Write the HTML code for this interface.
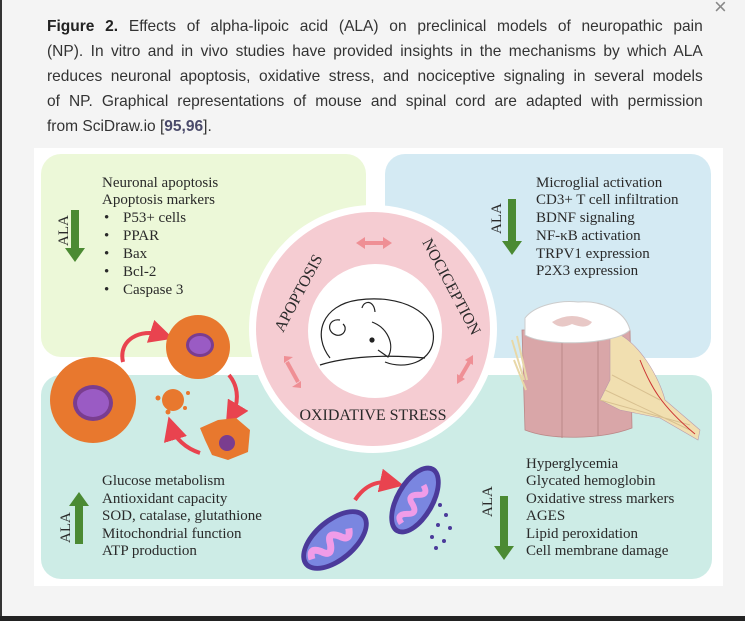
<!DOCTYPE html>
<html><head><meta charset="utf-8"><style>
html,body{margin:0;padding:0;}
body{width:745px;height:621px;background:#f4f4f4;position:relative;overflow:hidden;font-family:"Liberation Sans",sans-serif;}
.lb{position:absolute;left:0;top:0;width:2px;height:621px;background:#333;}
.bb{position:absolute;left:0;top:616px;width:745px;height:5px;background:#222;}
.x{position:absolute;left:714px;top:-6px;font-size:22px;color:#888;}
.cap{position:absolute;left:47px;top:14px;width:676px;font-size:16px;line-height:25px;color:#333;transform:scaleX(0.97);transform-origin:0 0;}
.cap div{text-align:justify;text-align-last:justify;white-space:nowrap;}
.cap div.l{text-align-last:left;}
.cap b{color:#222}
svg{position:absolute;left:0;top:0;}
.t{font-family:"Liberation Serif",serif;font-size:15px;fill:#2a2a2a;}
</style></head><body>
<div class="lb"></div><div class="bb"></div><div class="x">×</div>
<div class="cap">
<div><b>Figure 2.</b> Effects of alpha-lipoic acid (ALA) on preclinical models of neuropathic pain</div>
<div>(NP). In vitro and in vivo studies have provided insights in the mechanisms by which ALA</div>
<div>reduces neuronal apoptosis, oxidative stress, and nociceptive signaling in several models</div>
<div>of NP. Graphical representations of mouse and spinal cord are adapted with permission</div>
<div class="l">from SciDraw.io [<b style="color:#4a4a6a">95,96</b>].</div>
</div>
<svg width="745" height="621" viewBox="0 0 745 621">
<defs><marker id="ah" markerWidth="6" markerHeight="6" refX="3" refY="3" orient="auto"><path d="M0,0 L6,3 L0,6z" fill="#e9434f"/></marker></defs>
<rect x="34" y="148" width="689" height="438" fill="#fff"/>
<rect x="41" y="154" width="325" height="203" rx="20" fill="#ecf8d8"/>
<rect x="385" y="154" width="326" height="204" rx="20" fill="#d4eaf3"/>
<rect x="41" y="375" width="671" height="204" rx="20" fill="#cdece6"/>
<circle cx="373" cy="329" r="124" fill="#fff"/>
<circle cx="373" cy="329" r="117" fill="#f5ccd2"/>
<circle cx="375" cy="331" r="67" fill="#fff"/>
<g stroke="#ef8f95" stroke-width="4" fill="#ef8f95">
<line x1="362" y1="243" x2="386" y2="243"/>
<path d="M356,243 l9,-6 v12z M392,243 l-9,-6 v12z" stroke="none"/>
<line x1="287" y1="362" x2="298" y2="382"/>
<path d="M284,356 l9,1 -9,6z M301,388 l-9,-1 9,-6z" stroke="none"/>
<line x1="460" y1="378" x2="470" y2="361"/>
<path d="M457,384 l0,-10 8,5z M473,355 l0,10 -8,-5z" stroke="none"/>
</g>
<text class="t" x="373" y="420" text-anchor="middle" style="font-size:16px">OXIDATIVE STRESS</text>
<text class="t" style="font-size:16px" transform="translate(283,333) rotate(-62)">APOPTOSIS</text>
<text class="t" style="font-size:16px" transform="translate(422,242) rotate(62)">NOCICEPTION</text>
<g fill="none" stroke="#222" stroke-width="1.2">
<path d="M330,358 C312,335 322,305 358,300 C400,294 438,312 433,342 C430,362 405,370 385,362"/>
<path d="M320,365 C345,357 385,354 425,358"/>
<path d="M340,320 C328,318 326,332 336,335 C344,337 348,328 343,324"/>
<path d="M362,308 C364,300 374,300 375,312"/>
<path d="M372,322 C388,328 395,345 388,357 L378,350"/>
<circle cx="372" cy="340" r="2" fill="#222"/>
</g>
<text class="t" x="102" y="187">Neuronal apoptosis</text>
<text class="t" x="102" y="204">Apoptosis markers</text>
<text class="t" x="104" y="222">•</text><text class="t" x="123" y="222">P53+ cells</text>
<text class="t" x="104" y="240">•</text><text class="t" x="123" y="240">PPAR</text>
<text class="t" x="104" y="258">•</text><text class="t" x="123" y="258">Bax</text>
<text class="t" x="104" y="276">•</text><text class="t" x="123" y="276">Bcl-2</text>
<text class="t" x="104" y="294">•</text><text class="t" x="123" y="294">Caspase 3</text>
<text class="t" transform="translate(68,246) rotate(-90)">ALA</text>
<path d="M71,210 h8 v38 h6 l-10,14 -10,-14 h6z" fill="#4b8a33"/>
<text class="t" x="536" y="187">Microglial activation</text>
<text class="t" x="536" y="204">CD3+ T cell infiltration</text>
<text class="t" x="536" y="222">BDNF signaling</text>
<text class="t" x="536" y="240">NF-κB activation</text>
<text class="t" x="536" y="258">TRPV1 expression</text>
<text class="t" x="536" y="275">P2X3 expression</text>
<text class="t" transform="translate(501,234) rotate(-90)">ALA</text>
<path d="M508,199 h8 v42 h6 l-10,14 -10,-14 h6z" fill="#4b8a33"/>
<g>
<path d="M522,330 L525,430 C550,440 600,440 632,428 L630,330z" fill="#d9a6a8" stroke="#b88" stroke-width="0.8"/>
<line x1="562" y1="340" x2="562" y2="438" stroke="#b88"/>
<line x1="598" y1="340" x2="598" y2="436" stroke="#b88"/>
<path d="M610,330 C640,340 660,380 665,400 L700,430 L698,440 L660,418 L620,410 L600,400 L610,380z" fill="#f1dfb0" stroke="#b9a" stroke-width="0.6"/>
<path d="M600,400 L690,425 M605,390 L690,430 M612,375 L660,400" stroke="#d8c090" stroke-width="1"/>
<path d="M640,360 C650,385 660,405 695,434" stroke="#c33" stroke-width="1" fill="none"/>
<path d="M525,318 C535,305 560,300 578,302 C600,300 625,310 630,330 C615,345 545,347 525,335z" fill="#fff" stroke="#ccc"/>
<path d="M552,322 q20,-12 40,0 q-5,8 -20,2 q-12,6 -20,-2z" fill="#e8c8c6"/>
<path d="M512,340 l12,40 M517,336 l10,44 M514,360 l12,30" stroke="#e8d8a8" stroke-width="2"/>
</g>
<path d="M123,362 C118,340 140,328 162,335" fill="none" stroke="#e9434f" stroke-width="4" marker-end="url(#ah)"/>
<circle cx="93" cy="400" r="43" fill="#e8782e"/>
<ellipse cx="93" cy="403" rx="20" ry="18" fill="#7a3d8f"/><ellipse cx="93" cy="403" rx="16" ry="14" fill="#9a5bc4"/>
<circle cx="198" cy="347" r="32" fill="#e8782e"/>
<ellipse cx="200" cy="345" rx="14" ry="12" fill="#7a3d8f"/><ellipse cx="200" cy="345" rx="11" ry="9" fill="#9a5bc4"/>
<path d="M229,375 C240,388 238,405 232,415" fill="none" stroke="#e9434f" stroke-width="4" marker-end="url(#ah)"/>
<circle cx="173" cy="400" r="11" fill="#e8782e"/>
<circle cx="158" cy="398" r="2.5" fill="#e8782e"/><circle cx="188" cy="393" r="2" fill="#e8782e"/><circle cx="168" cy="412" r="2.5" fill="#e8782e"/><circle cx="185" cy="408" r="2" fill="#e8782e"/>
<path d="M200,428 L218,420 L236,418 L250,430 L248,452 L228,460 L212,455 L205,440z" fill="#e8782e"/>
<circle cx="227" cy="443" r="8" fill="#7a3d8f"/>
<path d="M200,453 C185,448 175,438 172,428" fill="none" stroke="#e9434f" stroke-width="4" marker-end="url(#ah)"/>
<text class="t" x="102" y="485">Glucose metabolism</text>
<text class="t" x="102" y="503">Antioxidant capacity</text>
<text class="t" x="102" y="520">SOD, catalase, glutathione</text>
<text class="t" x="102" y="538">Mitochondrial function</text>
<text class="t" x="102" y="555">ATP production</text>
<text class="t" transform="translate(70,543) rotate(-90)">ALA</text>
<path d="M75,544 h8 v-38 h6 l-10,-14 -10,14 h6z" fill="#4b8a33"/>
<g transform="rotate(-40 335 540)"><ellipse cx="335" cy="540" rx="40" ry="22" fill="#4b3a9a"/><ellipse cx="335" cy="540" rx="35" ry="17" fill="#7a86e0"/><path d="M305,540 q5,-12 12,0 q5,12 12,0 q5,-12 12,0 q5,12 12,0" stroke="#f09ce8" stroke-width="7" fill="none"/></g>
<path d="M355,500 C365,485 378,480 392,483" fill="none" stroke="#e9434f" stroke-width="4" marker-end="url(#ah)"/>
<g transform="rotate(-60 415 500)"><ellipse cx="415" cy="500" rx="38" ry="20" fill="#4b3a9a"/><ellipse cx="415" cy="500" rx="33" ry="15" fill="#7a86e0"/><path d="M388,500 q5,-10 11,0 q5,10 11,0 q5,-10 11,0 q5,10 11,0" stroke="#f09ce8" stroke-width="6" fill="none"/></g>
<g fill="#4b3a9a"><circle cx="440" cy="505" r="2"/><circle cx="446" cy="515" r="2"/><circle cx="438" cy="525" r="2"/><circle cx="450" cy="528" r="2"/><circle cx="432" cy="537" r="2"/><circle cx="444" cy="541" r="2"/><circle cx="436" cy="548" r="2"/></g>
<text class="t" x="526" y="468">Hyperglycemia</text>
<text class="t" x="526" y="485">Glycated hemoglobin</text>
<text class="t" x="526" y="503">Oxidative stress markers</text>
<text class="t" x="526" y="520">AGES</text>
<text class="t" x="526" y="538">Lipid peroxidation</text>
<text class="t" x="526" y="555">Cell membrane damage</text>
<text class="t" transform="translate(492,517) rotate(-90)">ALA</text>
<path d="M500,496 h8 v50 h6 l-10,14 -10,-14 h6z" fill="#4b8a33"/>
</svg>
</body></html>
